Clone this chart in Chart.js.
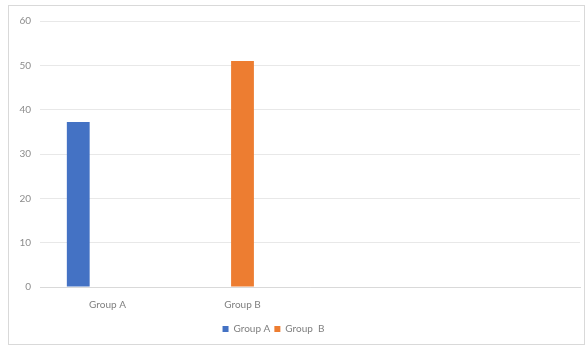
<!DOCTYPE html>
<html>
<head>
<meta charset="utf-8">
<script src="https://cdn.jsdelivr.net/npm/chart.js@4"></script>
<style>
    body { margin: 0; background: #fff; }
    #frame {
        position: absolute; left: 8px; top: 5px;
        width: 575px; height: 338px;
        border: 1px solid #d9d9d9;
    }
</style>
</head>
<body>
<div id="frame"><canvas id="groupChart" width="575" height="338"></canvas></div>
<script>
// chart data
const categories = ['Group A', 'Group B', '', ''];
const groupAValues = [37.2, null, null, null];
const groupBValues = [null, 51, null, null];
const spareValues = [null, null, null, null]; // empty third series, not shown in legend
const yTicks = [0, 10, 20, 30, 40, 50, 60];

document.addEventListener('DOMContentLoaded', function () {
    initializeChart();
});

// legend sits a little left of centre in the original
const legendShift = {
    id: 'legendShift',
    afterLayout(chart) {
        chart.legend.left -= 21;
        chart.legend.right -= 21;
    }
};

function initializeChart() {
    const ctx = document.getElementById('groupChart').getContext('2d');
    new Chart(ctx, {
        type: 'bar',
        data: {
            labels: categories,
            datasets: [
                { label: 'Group A', data: groupAValues, backgroundColor: '#4472C4' },
                { label: 'Group  B', data: groupBValues, backgroundColor: '#ED7D31' },
                { label: '', data: spareValues, backgroundColor: 'rgba(0,0,0,0)' }
            ]
        },
        plugins: [legendShift],
        options: {
            responsive: false,
            animation: false,
            layout: { padding: { top: 14, right: 4, left: 0, bottom: 0 } },
            datasets: {
                bar: { categoryPercentage: 0.65, barPercentage: 0.78 }
            },
            plugins: {
                tooltip: { enabled: false },
                legend: {
                    position: 'bottom',
                    labels: {
                        boxWidth: 6,
                        boxHeight: 6,
                        padding: 4,
                        color: '#7f7f7f',
                        font: { family: 'Lato', size: 10 },
                        filter: item => item.text !== ''
                    }
                }
            },
            scales: {
                x: {
                    afterFit: scale => { scale.height += 5; },
                    grid: { display: false },
                    border: { color: '#d9d9d9' },
                    ticks: { color: '#7f7f7f', padding: 4, maxRotation: 0, font: { family: 'Lato', size: 10 } }
                },
                y: {
                    min: 0,
                    max: 60,
                    afterFit: scale => { scale.width = 31; },
                    afterBuildTicks: scale => { scale.ticks = yTicks.map(v => ({ value: v })); },
                    grid: { color: '#e8e8e8', drawTicks: false },
                    border: { display: false },
                    ticks: { color: '#8c8c8c', padding: 9, font: { family: 'Lato', size: 10 } }
                }
            }
        }
    });
}
</script>
</body>
</html>
